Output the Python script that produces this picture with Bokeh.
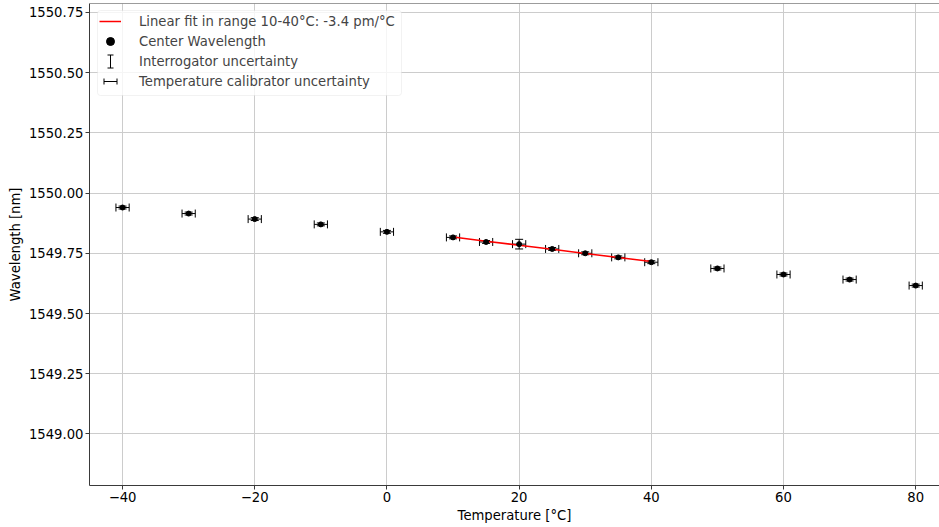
import numpy as np
from bokeh.plotting import figure
from bokeh.models import (ColumnDataSource, Whisker, TeeHead, Range1d, FixedTicker,
                          CustomJSTickFormatter, Legend, LegendItem, Arrow, Span, BoxAnnotation)
from bokeh.embed import file_html
from bokeh.resources import INLINE

# ---- data ----
temperature = [-40, -30, -20, -10, 0, 10, 15, 20, 25, 30, 35, 40, 50, 60, 70, 80]
wavelength = [1549.940, 1549.915, 1549.892, 1549.870, 1549.839, 1549.816, 1549.797,
              1549.788, 1549.768, 1549.750, 1549.733, 1549.713, 1549.687, 1549.662,
              1549.641, 1549.616]
interrogator_unc = [0.006, 0.006, 0.006, 0.006, 0.006, 0.006, 0.006, 0.020,
                    0.006, 0.006, 0.006, 0.006, 0.006, 0.006, 0.006, 0.006]
temp_cal_unc = [1.0, 1.0, 1.0, 1.0, 1.0, 1.0, 1.0, 1.0, 1.0, 1.0, 1.0, 1.0, 1.0, 1.0, 1.0, 1.0]
fit_lo, fit_hi = 10, 40
x_ticks = [-40, -20, 0, 20, 40, 60, 80]
y_ticks = [1549.00, 1549.25, 1549.50, 1549.75, 1550.00, 1550.25, 1550.50, 1550.75]
labels = ["Linear fit in range 10-40°C: -3.4 pm/°C", "Center Wavelength",
          "Interrogator uncertainty", "Temperature calibrator uncertainty"]

FONT = "DejaVu Sans"
FS = "13.2px"

t = np.array(temperature, dtype=float)
w = np.array(wavelength)
yu = np.array(interrogator_unc)
xu = np.array(temp_cal_unc)
src = ColumnDataSource(dict(x=t, y=w, yl=w - yu, yh=w + yu, xl=t - xu, xh=t + xu))

mask = (t >= fit_lo) & (t <= fit_hi)
coef = np.polyfit(t[mask], w[mask], 1)
xfit = t[mask]
yfit = np.polyval(coef, xfit)

W, H = 939, 527
BL, BR, BT, BB = 89, 0, 3, 42
p = figure(width=W, height=H, output_backend="svg", toolbar_location=None,
           x_range=Range1d(-45, 83.6), y_range=Range1d(1548.786, 1550.787),
           min_border_left=BL, min_border_right=BR, min_border_top=BT, min_border_bottom=BB)
p.outline_line_color = None
p.background_fill_color = "white"
p.border_fill_color = "white"

p.xaxis.ticker = FixedTicker(ticks=x_ticks)
p.yaxis.ticker = FixedTicker(ticks=y_ticks)
p.xaxis.formatter = CustomJSTickFormatter(code="return tick < 0 ? '\u2212' + Math.abs(tick) : String(tick);")
p.yaxis.formatter = CustomJSTickFormatter(code="return tick.toFixed(2);")
p.xaxis.axis_label = "Temperature [°C]"
p.yaxis.axis_label = "Wavelength [nm]"
for ax in p.axis:
    ax.axis_line_color = "#3a3a3a"
    ax.axis_line_width = 1
    ax.major_tick_line_color = "#3a3a3a"
    ax.major_tick_in = 0
    ax.major_tick_out = 4
    ax.minor_tick_line_color = None
    ax.major_label_text_font = FONT
    ax.major_label_text_font_size = FS
    ax.major_label_text_color = "black"
    ax.major_label_standoff = 2
    ax.axis_label_text_font = FONT
    ax.axis_label_text_font_size = FS
    ax.axis_label_text_font_style = "normal"
    ax.axis_label_text_color = "black"
    ax.axis_label_standoff = 3

for g in (p.xgrid, p.ygrid):
    g.grid_line_color = "#cccccc"
    g.grid_line_width = 1

# top spine
p.add_layout(Span(location=p.y_range.end, dimension="width", line_color="#3a3a3a", line_width=1))

# error bars
p.add_layout(Whisker(source=src, base="x", lower="yl", upper="yh", dimension="height",
                     line_color="black", line_width=1,
                     lower_head=TeeHead(size=8, line_color="black", line_width=1),
                     upper_head=TeeHead(size=8, line_color="black", line_width=1)))
p.add_layout(Whisker(source=src, base="y", lower="xl", upper="xh", dimension="width",
                     line_color="black", line_width=1,
                     lower_head=TeeHead(size=8, line_color="black", line_width=1),
                     upper_head=TeeHead(size=8, line_color="black", line_width=1)))

fit_r = p.line(xfit, yfit, line_color="red", line_width=1.5)
pts = p.scatter("x", "y", source=src, size=5, color="black")
dummy_i = p.scatter(x=[], y=[], size=1, fill_alpha=0, line_alpha=0)
dummy_t = p.scatter(x=[], y=[], size=1, fill_alpha=0, line_alpha=0)

FH = H - BT - BB
ROW, GW, STAND, LW = 20, 22, 18, 258
BOX_L, BOX_T, BOX_W, BOX_H = 8, 7, 304, 85      # legend frame, frame-relative px
ITEM_L, ITEM_T = 10, 8                          # first legend glyph, frame-relative px

# legend background box (drawn below the icons)
p.add_layout(BoxAnnotation(left=BOX_L, right=BOX_L + BOX_W, top=FH - BOX_T, bottom=FH - BOX_T - BOX_H,
                           left_units="screen", right_units="screen", top_units="screen", bottom_units="screen",
                           fill_color="white", fill_alpha=0.8, line_color="#d5d5d5", line_width=1,
                           border_radius=3, level="annotation"))

legend = Legend(items=[LegendItem(label=labels[0], renderers=[fit_r]),
                       LegendItem(label=labels[1], renderers=[pts]),
                       LegendItem(label=labels[2], renderers=[dummy_i]),
                       LegendItem(label=labels[3], renderers=[dummy_t])],
                location=(ITEM_L, FH - ITEM_T - 4 * ROW), margin=0, padding=0, spacing=0,
                glyph_width=GW, glyph_height=ROW, label_height=ROW, label_standoff=STAND,
                label_width=LW,
                label_text_font=FONT, label_text_font_size=FS,
                border_line_color=None, background_fill_alpha=0)
p.add_layout(legend)

# legend icons for the error-bar entries (screen units, frame-relative)
cx = ITEM_L + GW / 2
row3 = FH - (ITEM_T + ROW * 2 + ROW / 2)
row4 = FH - (ITEM_T + ROW * 3 + ROW / 2)
for xs, ys, xe, ye in [(cx, row3 - 6.5, cx, row3 + 6.5), (cx - 6.5, row4, cx + 6.5, row4)]:
    p.add_layout(Arrow(x_start=xs, y_start=ys, x_end=xe, y_end=ye, level="overlay",
                       start_units="screen", end_units="screen", line_color="black", line_width=1,
                       start=TeeHead(size=6, line_color="black", line_width=1),
                       end=TeeHead(size=6, line_color="black", line_width=1)))

open("out.html", "w").write(file_html(p, INLINE))
